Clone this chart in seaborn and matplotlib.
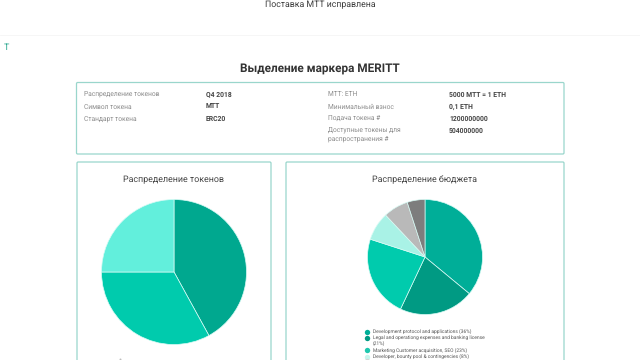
import matplotlib
matplotlib.use("Agg")
import matplotlib.pyplot as plt
from matplotlib.patches import FancyBboxPatch
import seaborn as sns

sns.set_theme(style="white")
plt.rcParams["font.family"] = ["Roboto", "DejaVu Sans"]
plt.rcParams["text.hinting"] = "no_hinting"

page_heading = "Поставка МТТ исправлена"
main_title = "Выделение маркера MERITT"
left_labels = ["Распределение токенов", "Символ токена", "Стандарт токена"]
left_values = ["Q4 2018", "MTT", "ERC20"]
right_labels = ["MTT: ETH", "Минимальный взнос", "Подача токена #",
                "Доступные токены для\nраспространения #"]
right_values = ["5000 MTT = 1 ETH", "0,1 ETH", "1200000000", "504000000"]

token_title = "Распределение токенов"
token_shares = [42, 33, 25]
token_colors = ["#00a88f", "#00cbad", "#62efdc"]

budget_title = "Распределение бюджета"
budget_shares = [36, 21, 23, 8, 7, 5]
budget_colors = sns.color_palette(
    ["#00ae98", "#009a83", "#00cbad", "#a9f2e6", "#b9b9b9", "#7d7d7d"])
budget_legend = ["Development protocol and applications (36%)",
                 "Legal and operationg expenses and banking license\n(21%)",
                 "Marketing Customer acquisition, SEO (23%)",
                 "Developer, bounty pool & contingencies (8%)"]

fig = plt.figure(figsize=(6.4, 3.6), dpi=100, facecolor="white")

# Page layer in pixel coordinates
page = fig.add_axes([0, 0, 1, 1])
page.set_xlim(0, 640)
page.set_ylim(360, 0)
page.axis("off")

page.text(320, 5, page_heading, ha="center", va="center", fontsize=6.3, color="#3c3c3c")
page.plot([0, 640], [35, 35], color="#f6f6f6", lw=0.7)
page.text(6, 48, "T", ha="center", va="center", fontsize=6.5, color="#2aa78f")
page.text(320, 68, main_title, ha="center", va="center", fontsize=8.5,
          color="#333333", fontweight="bold")

# Rounded frames: token summary and the two pie cards
for x0, y0, x1, y1 in [(76.5, 82.5, 564, 154), (77, 162, 271, 372), (286, 162, 564, 372)]:
    page.add_patch(FancyBboxPatch((x0, y0), x1 - x0, y1 - y0,
                                  boxstyle="round,pad=0,rounding_size=1.2",
                                  fc="white", ec="#9ad6cc", lw=0.9))

# Summary rows share one baseline per row
row_y = [96.5, 108.5, 120.5, 132.5]
for y, lab, val in zip(row_y, left_labels, left_values):
    page.text(84, y, lab, va="baseline", fontsize=4.75, color="#8c8c8c")
    page.text(206, y, val, va="baseline", fontsize=4.9, color="#444444", fontweight="bold")
for y, lab, val in zip(row_y, right_labels, right_values):
    first, _, second = lab.partition("\n")
    page.text(328, y, first, va="baseline", fontsize=4.75, color="#8c8c8c")
    if second:
        page.text(328, y + 9.5, second, va="baseline", fontsize=4.75, color="#8c8c8c")
    page.text(449, y, val, va="baseline", fontsize=4.9, color="#444444", fontweight="bold")

page.text(173.5, 179.5, token_title, ha="center", va="center", fontsize=6.4, color="#444444")
page.text(425, 179.5, budget_title, ha="center", va="center", fontsize=6.4, color="#444444")


def pie_axes(cx, cy, radius):
    return fig.add_axes([(cx - radius) / 640, 1 - (cy + radius) / 360,
                         2 * radius / 640, 2 * radius / 360])


token_ax = pie_axes(174, 272, 72.5)
token_ax.pie(token_shares, colors=token_colors, startangle=90, counterclock=False,
             radius=1, wedgeprops={"edgecolor": "#d8fbf5", "linewidth": 0.5})
token_ax.set_xlim(-1, 1)
token_ax.set_ylim(-1, 1)

budget_ax = pie_axes(425, 257, 57.5)
budget_ax.pie(budget_shares, colors=budget_colors, startangle=90, counterclock=False,
              radius=1, wedgeprops={"edgecolor": "#d8fbf5", "linewidth": 0.5})
budget_ax.set_xlim(-1, 1)
budget_ax.set_ylim(-1, 1)

# Budget legend, cut off by the lower edge of the page
legend_y = [331.5, 338, 350, 356.5]
for y, text, col in zip(legend_y, budget_legend,
                        ["#00ae98", "#009a83", "#1fc7ae", "#c6f5ec"]):
    page.scatter([367], [y], s=15, color=col, linewidths=0)
    first, _, second = text.partition("\n")
    page.text(373, y + 1.4, first, va="baseline", fontsize=3.55, color="#555555")
    if second:
        page.text(373, y + 7, second, va="baseline", fontsize=3.55, color="#555555")
page.scatter([367], [361], s=15, color="#d5d5d5", linewidths=0)
page.scatter([120], [358.5], s=2, color="#bdbdbd", linewidths=0)

fig.savefig("out.png", dpi=100)
